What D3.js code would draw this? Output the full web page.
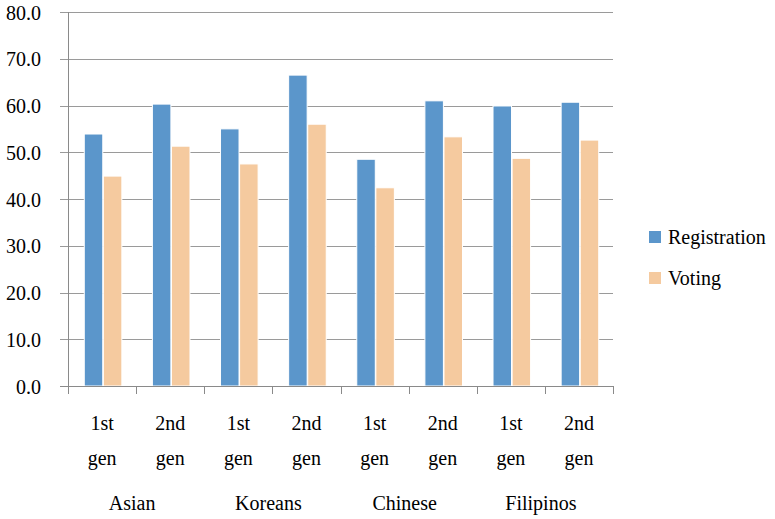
<!DOCTYPE html>
<html lang="en">
<head>
  <meta charset="UTF-8">
  <title>Registration and Voting by Generation</title>
  <script src="https://d3js.org/d3.v7.min.js"></script>
  <style>
    body { margin: 0; background: #fff; }
  </style>
</head>
<body>
  <svg id="chart" width="775" height="519"></svg>
  <script>
    const groups = ["Asian", "Koreans", "Chinese", "Filipinos"];
    const gens = ["1st gen", "2nd gen"];
    const registration = [53.9, 60.3, 55.0, 66.5, 48.5, 61.0, 59.9, 60.7];
    const voting = [44.9, 51.3, 47.5, 56.0, 42.4, 53.3, 48.7, 52.6];
    const seriesNames = ["Registration", "Voting"];
    const colors = ["#5b96cb", "#f5ca9f"];
    const yTicks = [0, 10, 20, 30, 40, 50, 60, 70, 80];

    const FONT = "'Liberation Serif', 'Times New Roman', Times, 'DejaVu Serif', serif";

    const cats = groups.flatMap(g => gens.map(n => g + "|" + n));
    const rows = cats.map((c, i) => ({ key: c, gen: c.split("|")[1], values: [registration[i], voting[i]] }));

    const margin = { left: 68, right: 162, top: 12, bottom: 133 };
    const W = 775, H = 519;
    const svg = d3.select("#chart").attr("font-family", FONT).style("font-family", FONT);

    const x = d3.scaleBand().domain(cats).range([margin.left, W - margin.right]);
    const y = d3.scaleLinear().domain([0, 80]).range([H - margin.bottom, margin.top]);
    const inner = d3.scaleBand().domain([0, 1]).range([0, x.bandwidth()]).paddingInner(0.03).paddingOuter(0.8);

    // gridlines
    svg.append("g").selectAll("line").data(yTicks).enter().append("line")
      .attr("x1", margin.left - 8).attr("x2", W - margin.right)
      .attr("y1", d => Math.round(y(d)) + 0.5).attr("y2", d => Math.round(y(d)) + 0.5)
      .attr("stroke", "#9a9a9a").attr("stroke-width", 1);

    // y labels
    svg.append("g").selectAll("text").data(yTicks).enter().append("text")
      .attr("x", 41).attr("y", d => y(d) + 3)
      .attr("text-anchor", "end").attr("dominant-baseline", "middle")
      .style("font-size", "20px").style("font-family", FONT)
      .text(d => d.toFixed(1));

    // bars
    const grp = svg.append("g").selectAll("g").data(rows).enter().append("g")
      .attr("transform", d => `translate(${x(d.key)},0)`);
    grp.selectAll("rect").data(d => d.values.map((v, i) => ({ v, i }))).enter().append("rect")
      .attr("x", d => inner(d.i) + 1)
      .attr("width", inner.bandwidth())
      .attr("y", d => y(d.v))
      .attr("height", d => y(0) - y(d.v))
      .attr("fill", d => colors[d.i])
      .attr("stroke", "#fff").attr("stroke-width", 1);

    // axes lines
    svg.append("line")
      .attr("x1", margin.left + 0.5).attr("x2", margin.left + 0.5)
      .attr("y1", y(80)).attr("y2", y(0))
      .attr("stroke", "#8a8a8a");
    svg.append("line")
      .attr("x1", margin.left - 8).attr("x2", W - margin.right)
      .attr("y1", Math.round(y(0)) + 0.5).attr("y2", Math.round(y(0)) + 0.5)
      .attr("stroke", "#8a8a8a");
    const bounds = cats.map(c => x(c)).concat([W - margin.right]);
    svg.append("g").selectAll("line").data(bounds).enter().append("line")
      .attr("x1", d => Math.round(d) + 0.5).attr("x2", d => Math.round(d) + 0.5)
      .attr("y1", y(0)).attr("y2", y(0) + 8)
      .attr("stroke", "#8a8a8a");

    // category labels
    const lab = svg.append("g").selectAll("g").data(rows).enter().append("g")
      .attr("transform", d => `translate(${x(d.key) + x.bandwidth() / 2},0)`);
    lab.append("text").attr("y", 430).attr("text-anchor", "middle")
      .style("font-size", "20px").style("font-family", FONT)
      .text(d => d.gen.split(" ")[0]);
    lab.append("text").attr("y", 465).attr("text-anchor", "middle")
      .style("font-size", "20px").style("font-family", FONT)
      .text(d => d.gen.split(" ")[1]);

    svg.append("g").selectAll("text").data(groups).enter().append("text")
      .attr("x", g => x(g + "|" + gens[0]) + x.bandwidth() - 4)
      .attr("y", 510).attr("text-anchor", "middle")
      .style("font-size", "20px").style("font-family", FONT)
      .text(g => g);

    // legend
    const leg = svg.append("g").selectAll("g").data(seriesNames).enter().append("g")
      .attr("transform", (d, i) => `translate(649,${231 + i * 41})`);
    leg.append("rect").attr("width", 12).attr("height", 12).attr("fill", (d, i) => colors[i]);
    leg.append("text").attr("x", 19).attr("y", 13)
      .style("font-size", "20px").style("font-family", FONT)
      .text(d => d);
  </script>
</body>
</html>
